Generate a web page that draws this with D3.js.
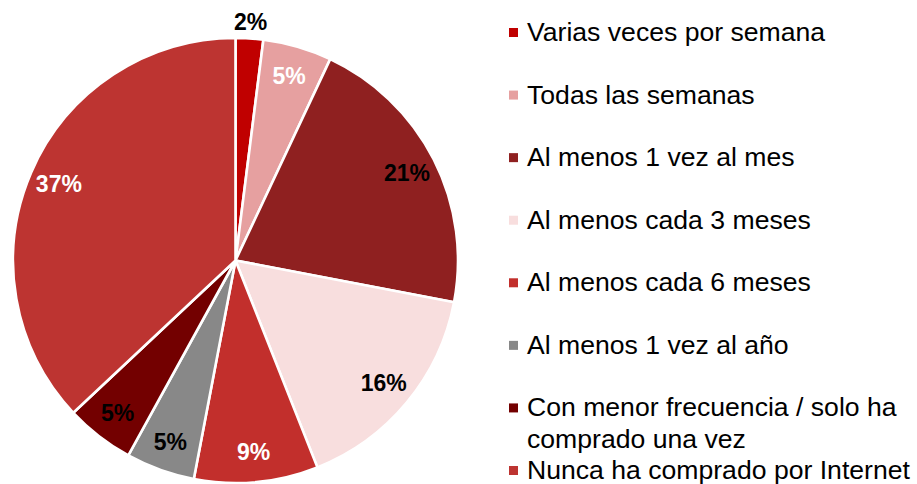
<!DOCTYPE html>
<html>
<head>
<meta charset="utf-8">
<script src="https://cdn.jsdelivr.net/npm/d3@7/dist/d3.min.js"></script>
<style>
  html, body { margin: 0; padding: 0; background: #ffffff; }
  svg { display: block; }
  text { font-family: "Liberation Sans", Arial, sans-serif; }
</style>
</head>
<body>
<svg id="chart" width="917" height="484"></svg>
<script>
// Frecuencia de compra por Internet (% de encuestados)
const categories = [
  "Varias veces por semana",
  "Todas las semanas",
  "Al menos 1 vez al mes",
  "Al menos cada 3 meses",
  "Al menos cada 6 meses",
  "Al menos 1 vez al año",
  "Con menor frecuencia / solo ha comprado una vez",
  "Nunca ha comprado por Internet"
];
const values = [2, 5, 21, 16, 9, 5, 5, 37];
const legendLines = [
  ["Varias veces por semana"],
  ["Todas las semanas"],
  ["Al menos 1 vez al mes"],
  ["Al menos cada 3 meses"],
  ["Al menos cada 6 meses"],
  ["Al menos 1 vez al año"],
  ["Con menor frecuencia / solo ha", "comprado una vez"],
  ["Nunca ha comprado por Internet"]
];
const colors = ["#c00000", "#e6a0a0", "#8f2020", "#f8dede", "#c22f2c", "#888888", "#730000", "#bd3431"];
const labelColors = ["#000000", "#ffffff", "#000000", "#000000", "#ffffff", "#000000", "#000000", "#ffffff"];

const data = categories.map((c, i) => ({ name: c, value: values[i], color: colors[i], labelColor: labelColors[i], lines: legendLines[i] }));

const svg = d3.select("#chart");

// Pie
const cx = 235.5, cy = 260.5, R = 222.5;
const pie = d3.pie().value(d => d.value).sort(null);
const arcs = pie(data);
const arc = d3.arc().innerRadius(0).outerRadius(R);
const labelArc = d3.arc().innerRadius(R * 0.865).outerRadius(R * 0.865);
const outerLabelArc = d3.arc().innerRadius(R * 1.075).outerRadius(R * 1.075);

const g = svg.append("g").attr("transform", `translate(${cx},${cy})`);

g.selectAll("path.slice")
  .data(arcs)
  .join("path")
  .attr("class", "slice")
  .attr("d", arc)
  .attr("fill", d => d.data.color)
  .attr("stroke", "#ffffff")
  .attr("stroke-width", 2.6)
  .attr("stroke-linejoin", "round");

// Percentage labels; slices that are too narrow get their label outside
g.selectAll("text.pct")
  .data(arcs)
  .join("text")
  .attr("class", "pct")
  .attr("transform", d => {
    const small = (d.endAngle - d.startAngle) < 0.2;
    const p = (small ? outerLabelArc : labelArc).centroid(d);
    return `translate(${p[0]},${p[1]})`;
  })
  .attr("text-anchor", "middle")
  .attr("dominant-baseline", "central")
  .attr("font-size", 23)
  .attr("font-weight", "bold")
  .attr("fill", d => ((d.endAngle - d.startAngle) < 0.2) ? "#000000" : d.data.labelColor)
  .text(d => d3.format(".0f")(d.data.value) + "%");

// Legend
const legendX = 509, textX = 527;
const rowY = d3.scalePoint().domain(d3.range(data.length)).range([41, 479]);

const lg = svg.append("g");
const items = lg.selectAll("g.item")
  .data(data)
  .join("g")
  .attr("class", "item")
  .attr("transform", (d, i) => `translate(0,${rowY(i)})`);

items.append("rect")
  .attr("x", legendX)
  .attr("y", -13)
  .attr("width", 9)
  .attr("height", 9)
  .attr("fill", d => d.color);

items.append("text")
  .attr("x", textX)
  .attr("y", 0)
  .attr("font-size", 26.6)
  .attr("fill", "#000000")
  .selectAll("tspan")
  .data(d => d.lines)
  .join("tspan")
  .attr("x", textX)
  .attr("dy", (d, i) => i === 0 ? 0 : 32)
  .text(d => d);
</script>
</body>
</html>
